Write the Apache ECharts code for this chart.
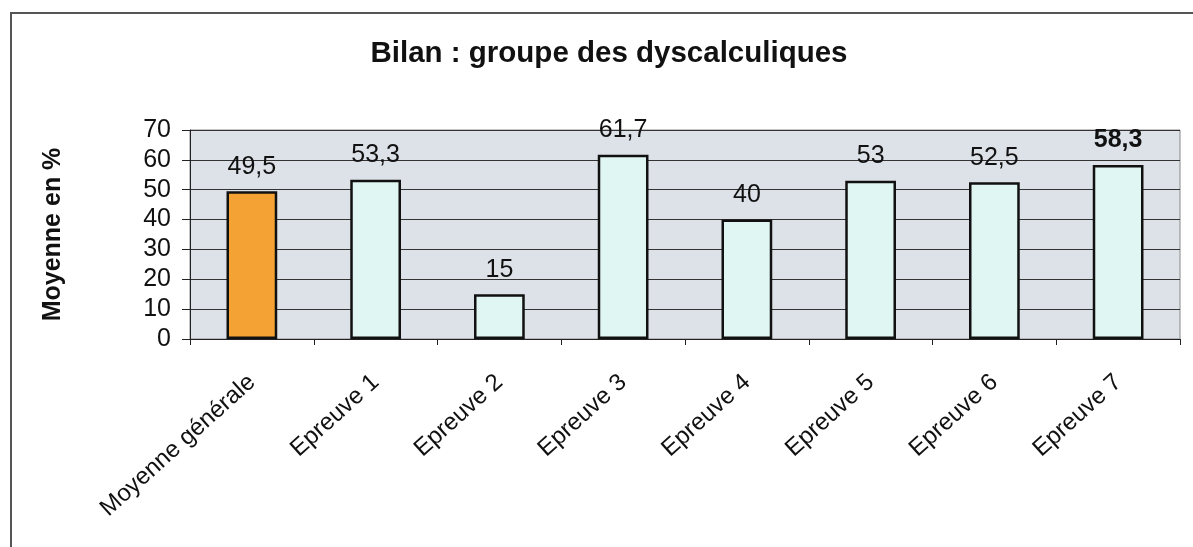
<!DOCTYPE html>
<html>
<head>
<meta charset="utf-8">
<script src="https://cdn.jsdelivr.net/npm/echarts@6/dist/echarts.min.js"></script>
<style>
  html, body { margin: 0; padding: 0; background: #fff; }
  #chart { width: 1193px; height: 547px; }
</style>
</head>
<body>
<div id="chart"></div>
<script>
var categories = ["Moyenne générale", "Epreuve 1", "Epreuve 2", "Epreuve 3", "Epreuve 4", "Epreuve 5", "Epreuve 6", "Epreuve 7"];
var values = [49.5, 53.3, 15, 61.7, 40, 53, 52.5, 58.3];
var barColors = ["#f4a234", "#e0f6f2", "#e0f6f2", "#e0f6f2", "#e0f6f2", "#e0f6f2", "#e0f6f2", "#e0f6f2"];
var yTicks = { min: 0, max: 70, interval: 10 };

var font = "Liberation Sans, Arial, sans-serif";
var myChart = echarts.init(document.getElementById("chart"));
var option = {
  backgroundColor: "#fff",
  animation: false,
  title: {
    text: "Bilan : groupe des dyscalculiques",
    left: 604,
    textAlign: "center",
    top: 34,
    textStyle: { fontFamily: font, fontSize: 29.5, fontWeight: "bold", color: "#111" }
  },
  graphic: [
    {
      type: "rect",
      shape: { x: 11, y: 13, width: 1300, height: 700 },
      style: { fill: "none", stroke: "#555", lineWidth: 2 },
      silent: true
    }
  ],
  grid: {
    left: 190,
    top: 130,
    right: 13,
    bottom: 208,
    show: true,
    backgroundColor: "#dde2e8",
    borderColor: "#888",
    borderWidth: 1
  },
  xAxis: {
    type: "category",
    data: categories,
    axisLine: { lineStyle: { color: "#222", width: 1 } },
    axisTick: { show: true, alignWithLabel: false, length: 6, lineStyle: { color: "#222" } },
    axisLabel: {
      interval: 0,
      rotate: 42,
      margin: 40,
      fontFamily: font,
      fontSize: 24,
      color: "#111"
    }
  },
  yAxis: {
    type: "value",
    min: yTicks.min,
    max: yTicks.max,
    interval: yTicks.interval,
    name: "Moyenne en %",
    nameLocation: "middle",
    nameGap: 124,
    nameRotate: 90,
    nameTextStyle: { fontFamily: font, fontSize: 25, fontWeight: "bold", color: "#111" },
    axisLine: { show: true, lineStyle: { color: "#222", width: 1 } },
    axisTick: { show: true, length: 8, lineStyle: { color: "#222" } },
    axisLabel: { fontFamily: font, fontSize: 25, color: "#111", margin: 19 },
    splitLine: { show: true, lineStyle: { color: "#333", width: 1.2 } }
  },
  series: [
    {
      type: "bar",
      barWidth: "41%",
      data: values.map(function (v, i) {
        var d = { value: v, itemStyle: { color: barColors[i] } };
        if (i === values.length - 1) d.label = { fontWeight: "bold" };
        return d;
      }),
      itemStyle: { borderColor: "#111", borderWidth: 2.5 },
      label: {
        show: true,
        position: "top",
        distance: 12,
        fontFamily: font,
        fontSize: 25,
        color: "#111",
        formatter: function (p) {
          return String(p.value).replace(".", ",");
        }
      }
    }
  ]
};
myChart.setOption(option);
</script>
</body>
</html>
